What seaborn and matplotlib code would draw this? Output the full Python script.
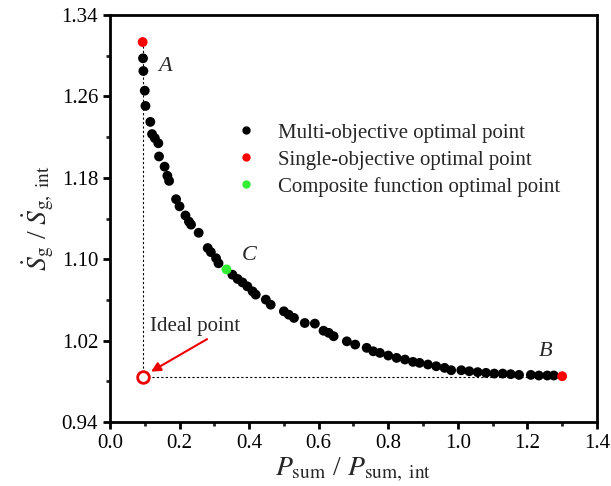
import matplotlib
matplotlib.use("Agg")
import matplotlib.pyplot as plt
import seaborn as sns
import pandas as pd
from matplotlib.ticker import FixedLocator

# ---- data ----
multi_x = [0.095, 0.096, 0.100, 0.102, 0.116, 0.121, 0.129, 0.139, 0.141, 0.157,
           0.165, 0.170, 0.190, 0.200, 0.217, 0.227, 0.233, 0.255, 0.281, 0.290,
           0.305, 0.312, 0.352, 0.367, 0.381, 0.395, 0.410, 0.419, 0.448, 0.462,
           0.500, 0.514, 0.529, 0.560, 0.589, 0.614, 0.629, 0.643, 0.681, 0.705,
           0.738, 0.757, 0.776, 0.800, 0.824, 0.848, 0.871, 0.890, 0.914, 0.938,
           0.962, 0.981, 1.010, 1.033, 1.057, 1.081, 1.105, 1.129, 1.152, 1.176,
           1.210, 1.233, 1.257, 1.276]
multi_y = [1.2975, 1.285, 1.2657, 1.2507, 1.235, 1.223, 1.219, 1.214, 1.201, 1.191,
           1.182, 1.177, 1.159, 1.152, 1.143, 1.137, 1.134, 1.126, 1.111, 1.107,
           1.101, 1.096, 1.0848, 1.0806, 1.0772, 1.0733, 1.0684, 1.0652, 1.0603, 1.0553,
           1.0488, 1.0455, 1.0423, 1.0373, 1.0367, 1.0297, 1.0276, 1.0243, 1.0193, 1.0161,
           1.0129, 1.0095, 1.0079, 1.0053, 1.0030, 1.0014, 0.9991, 0.9981, 0.9965, 0.9948,
           0.9932, 0.9909, 0.9909, 0.9899, 0.9890, 0.9883, 0.9876, 0.9876, 0.9870, 0.9863,
           0.9863, 0.9857, 0.9857, 0.9857]
single_x = [0.094, 1.300]
single_y = [1.3135, 0.985]
comp_x = [0.335]
comp_y = [1.090]
ideal_x = 0.094
ideal_y = 0.984

x_ticks = [0.0, 0.2, 0.4, 0.6, 0.8, 1.0, 1.2, 1.4]
y_ticks = [0.94, 1.02, 1.10, 1.18, 1.26, 1.34]
x_minor = [0.1, 0.3, 0.5, 0.7, 0.9, 1.1, 1.3]
y_minor = [0.98, 1.06, 1.14, 1.22, 1.30]

labels = ["Multi-objective optimal point", "Single-objective optimal point",
          "Composite function optimal point"]

df = pd.DataFrame({
    "x": multi_x + single_x + comp_x,
    "y": multi_y + single_y + comp_y,
    "kind": [labels[0]] * len(multi_x) + [labels[1]] * len(single_x) + [labels[2]] * len(comp_x),
})

sns.set_style("ticks")
plt.rcParams["font.family"] = ["Liberation Serif", "DejaVu Serif"]
plt.rcParams["mathtext.fontset"] = "stix"

fig = plt.figure(figsize=(6.11, 4.86), dpi=100)
ax = fig.add_axes([0.18, 0.1317, 0.797, 0.8373])

# dashed guide lines
ax.plot([ideal_x, ideal_x], [ideal_y, single_y[0]], ls=(0, (2, 2)), color="black", lw=0.8, zorder=1)
ax.plot([ideal_x, single_x[1]], [ideal_y, ideal_y], ls=(0, (2, 2)), color="black", lw=0.8, zorder=1)

sns.scatterplot(data=df, x="x", y="y", hue="kind",
                palette={labels[0]: "black", labels[1]: "#ff0000", labels[2]: "#33ee33"},
                s=50, linewidth=0, ax=ax, zorder=3)

ax.scatter([ideal_x], [ideal_y], s=70, facecolors="white", edgecolors="#ee0000",
           linewidths=2, zorder=4)

ax.annotate("Ideal point", xy=(0.118, 0.9895), xytext=(0.114, 1.034),
            fontsize=15, va="center", ha="left",
            arrowprops=dict(arrowstyle="-|>", color="#ee0000", lw=1.5,
                            shrinkA=0, shrinkB=0, mutation_scale=14,
                            relpos=(0.7, 0.0)))

ax.text(0.157, 1.289, "A", fontsize=16, style="italic", ha="center", va="center")
ax.text(0.40, 1.104, "C", fontsize=16, style="italic", ha="center", va="center")
ax.text(1.251, 1.009, "B", fontsize=16, style="italic", ha="center", va="center")

ax.set_xlim(0.0, 1.4)
ax.set_ylim(0.94, 1.34)
ax.xaxis.set_major_locator(FixedLocator(x_ticks))
ax.xaxis.set_minor_locator(FixedLocator(x_minor))
ax.yaxis.set_major_locator(FixedLocator(y_ticks))
ax.yaxis.set_minor_locator(FixedLocator(y_minor))
ax.set_xticklabels([f"{v:.1f}" for v in x_ticks])
ax.set_yticklabels([f"{v:.2f}" for v in y_ticks])

ax.tick_params(which="major", direction="out", length=5, width=2, labelsize=15, colors="black")
ax.tick_params(which="minor", direction="out", length=3, width=2)
for sp in ax.spines.values():
    sp.set_linewidth(2)
    sp.set_color("black")
    sp.set_visible(True)

ax.set_xlabel(r"$P_{\rm sum}$ / $P_{\rm sum,\ int}$", fontsize=20, labelpad=2)
ax.set_ylabel(r"$\dot{S}_{\rm g}$ / $\dot{S}_{\rm g,\ int}$", fontsize=20, labelpad=4)

leg = ax.legend(loc="upper left", bbox_to_anchor=(0.22, 0.755), frameon=False,
                fontsize=15, handletextpad=0.5, labelspacing=0.35, markerscale=0.85,
                borderaxespad=0)

fig.savefig("out.png", dpi=100)
